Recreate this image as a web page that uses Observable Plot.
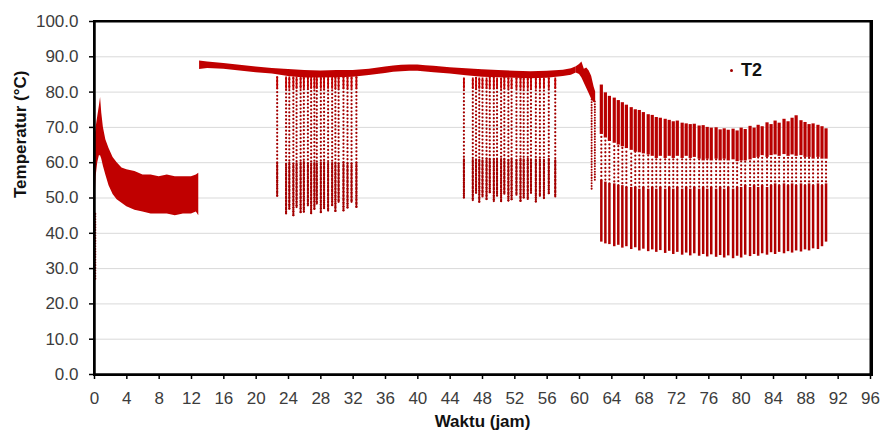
<!DOCTYPE html>
<html>
<head>
<meta charset="utf-8">
<script src="https://cdn.jsdelivr.net/npm/d3@7"></script>
<script src="https://cdn.jsdelivr.net/npm/@observablehq/plot@0.6"></script>
<style>
  html, body { margin: 0; padding: 0; background: #fff; }
  #wrap { position: relative; width: 883px; height: 432px; }
  #legend { position: absolute; left: 730px; top: 60px; font: bold 18px "Liberation Sans", Arial, sans-serif; color: #111; }
  #legend .dot { display: inline-block; width: 3px; height: 3px; border-radius: 50%; background: #a00000; vertical-align: middle; margin-right: 8px; position: relative; top: -1px; }
  #box { position: absolute; left: 93px; top: 20px; width: 776px; height: 352px; border: 2px solid #000; pointer-events: none; }
</style>
</head>
<body>
<div id="wrap"><div id="box"></div><div id="legend"><span class="dot"></span>T2</div></div>
<script>
// ---- axis ticks ----
const xTicks = [0,4,8,12,16,20,24,28,32,36,40,44,48,52,56,60,64,68,72,76,80,84,88,92,96];
const yTicks = [0,10,20,30,40,50,60,70,80,90,100];

// ---- phase A: 0-13 h dense cloud (upper / lower envelope, °C) ----
const aX  = [0.0, 0.2, 0.4, 0.6, 0.75, 0.9, 1.1, 1.4, 1.8, 2.3, 2.8, 3.4, 4.0, 5.0, 6.0, 7.0, 8.0, 9.0, 10.0, 11.0, 12.0, 12.6, 12.9];
const aHi = [66, 70, 73, 76, 78.5, 74, 70, 66.5, 64, 61.5, 60, 58.5, 58, 57.5, 56.5, 56.5, 56, 56.5, 56, 56, 56, 56.5, 57];
const aLo = [46, 56, 60, 62, 62, 61, 59, 56.5, 53.5, 51, 49.5, 48.5, 47.5, 46.5, 46, 45.5, 45.5, 45.5, 45, 45.5, 45.5, 46, 45];
// start-up streak at t = 0
const sX = [0.1], sLo = [27], sHi = [46];

// ---- phase B: 13-59.6 h plateau band ----
const bX  = [13.0,14,16,18,20,22,24,26,28,30,32,34,36,37,38,39,40,41,42,44,46,48,50,52,54,56,58,59,59.6];
const bHi = [88.8,88.5,88.1,87.6,87.1,86.7,86.4,86.1,86.0,86.1,86.1,86.5,87.1,87.4,87.6,87.7,87.7,87.5,87.3,86.9,86.6,86.3,86.1,85.9,85.8,85.9,86.2,86.6,87.2];
const bLo = [86.4,86.7,86.5,86.0,85.5,85.1,84.4,84.0,84.0,84.1,84.2,84.7,85.3,85.6,85.8,85.9,85.9,85.7,85.5,85.1,84.6,84.2,84.1,83.9,83.8,83.9,84.4,84.8,85.4];

// ---- dropout sweeps during the plateau ----
const d1X      = [22.6, 23.7, 24.1, 24.6, 25.0, 25.5, 25.9, 26.4, 26.8, 27.2, 27.5, 28.0, 28.4, 28.9, 29.4, 29.8, 30.2, 30.8, 31.3, 31.8, 32.4];
const d1Bottom = [50.5, 45.2, 46.5, 45.0, 47.0, 45.5, 46.0, 47.5, 45.2, 46.8, 48.0, 45.5, 47.0, 46.0, 47.5, 46.2, 48.5, 46.0, 47.2, 48.5, 47.0];
const d2X      = [45.7, 46.8, 47.2, 47.6, 48.0, 48.5, 48.9, 49.4, 49.8, 50.3, 50.7, 51.2, 51.6, 52.2, 52.7, 53.1, 53.6, 54.0, 54.6, 55.1, 55.6, 56.2, 57.0];
const d2Bottom = [50.0, 49.0, 51.0, 48.8, 50.0, 49.2, 51.5, 48.7, 50.2, 49.0, 50.8, 48.8, 49.5, 50.5, 48.7, 50.0, 49.3, 51.0, 48.9, 50.2, 49.5, 51.2, 50.0];
const dropTop      = [84.3, 84.0];   // region 1, region 2
const dropDense    = [80.8, 80.8];
const dropLowDense = [60.0, 61.0];

// ---- transition 59.6-62 h ----
const tX  = [59.6, 60.0, 60.3, 60.6, 60.9, 61.2, 61.5, 61.8, 62.0];
const tHi = [87.2, 87.8, 88.5, 86.5, 86.8, 86.0, 84.5, 81.5, 80.0];
const tLo = [85.4, 85.0, 84.0, 82.5, 81.0, 79.5, 78.0, 77.0, 77.5];
const tdX = [61.5, 61.9], tdTop = [78, 77.5], tdBottom = [52.5, 55];

// ---- phase C: 62.7-90.5 h cycling ----
const cX = [62.7,63.2,63.7,64.3,64.8,65.3,65.8,66.4,66.9,67.4,67.9,68.5,69.0,69.5,70.0,70.6,71.1,71.6,72.1,72.7,73.2,73.7,74.2,74.8,75.3,75.8,76.3,76.9,77.4,77.9,78.4,79.0,79.5,80.0,80.5,81.1,81.6,82.1,82.6,83.2,83.7,84.2,84.7,85.3,85.8,86.3,86.8,87.4,87.9,88.4,88.9,89.5,90.0,90.5];
const cTop = [82.0,79.8,78.8,78.3,77.6,77.0,76.3,75.6,75.0,74.8,74.2,73.6,73.4,72.8,72.6,72.3,72.0,71.6,71.8,71.2,71.0,70.8,70.9,70.4,70.5,70.0,69.8,69.9,69.3,69.6,69.2,69.5,69.0,69.8,69.4,70.3,69.8,70.6,70.2,71.3,70.8,71.8,71.2,72.3,71.6,72.6,73.3,71.9,71.4,70.8,71.0,70.6,70.2,69.6];
const cMidHi = [68.0,67.0,66.0,65.5,65.0,64.5,64.0,63.5,63.0,62.8,62.5,62.2,61.8,61.2,61.8,61.2,61.8,61.2,61.8,61.2,61.8,61.2,61.5,61.0,60.5,61.0,60.5,61.0,60.5,61.0,60.5,60.8,60.3,60.5,60.5,60.8,61.2,61.5,62.0,61.5,62.0,62.2,61.8,62.3,61.8,62.2,61.8,62.0,61.5,61.5,61.0,61.5,61.0,61.0];
const cMidLo = [55.0,54.5,54.0,54.0,53.5,53.5,53.0,53.0,53.0,52.5,53.0,52.5,53.0,52.5,53.0,52.5,53.0,52.5,53.0,52.5,53.0,52.5,53.0,52.5,53.0,52.5,53.0,52.5,53.0,52.5,53.0,52.5,53.0,53.0,53.5,53.0,53.5,53.0,53.5,53.0,53.5,54.0,53.5,54.0,53.5,54.0,53.5,54.0,53.5,54.0,53.5,54.0,53.5,54.0];
const cBottom = [37.5,37.0,36.8,36.2,36.6,35.8,36.2,35.4,35.9,35.0,35.5,34.8,35.3,34.6,35.1,34.3,34.9,34.0,34.6,33.8,34.4,33.6,34.2,33.5,34.0,33.3,33.9,33.2,33.7,33.0,33.6,32.8,33.5,33.0,33.8,33.4,34.0,33.5,34.2,33.8,34.5,34.0,34.6,34.2,34.8,34.4,35.0,34.7,35.3,35.0,35.6,35.4,36.2,37.5];

// ---- build tables ----
const RED = "#c00000", DOT = "#a30000";
const areaA = aX.map((x, i) => ({x, hi: aHi[i], lo: aLo[i]}));
const streak = sX.map((x, i) => ({x, lo: sLo[i], hi: sHi[i]}));
const areaB = bX.map((x, i) => ({x, hi: bHi[i], lo: bLo[i]}));
const areaT = tX.map((x, i) => ({x, hi: tHi[i], lo: tLo[i]}));
const tCols = tdX.map((x, i) => ({x, top: tdTop[i], bottom: tdBottom[i]}));
const drops = [
  ...d1X.map((x, i) => ({x, k: i % 3, bottom: d1Bottom[i], top: dropTop[0], dense: dropDense[0], low: dropLowDense[0]})),
  ...d2X.map((x, i) => ({x, k: i % 3, bottom: d2Bottom[i], top: dropTop[1], dense: dropDense[1], low: dropLowDense[1]}))
];
const cyc = cX.map((x, i) => ({x, k: i % 2, top: cTop[i], midHi: cMidHi[i], midLo: cMidLo[i], bottom: cBottom[i]}));

const dotRule = (data, k, y1, y2, dash, off) => Plot.ruleX(data, {
  filter: d => d.k === k, x: "x", y1, y2, stroke: DOT, strokeWidth: 2.2,
  strokeDasharray: dash, strokeDashoffset: off, strokeLinecap: "round"
});

const chart = Plot.plot({
  width: 883,
  height: 432,
  marginLeft: 94,
  marginRight: 13,
  marginTop: 21,
  marginBottom: 58,
  style: {fontFamily: "'Liberation Sans', Arial, sans-serif", fontSize: "17px", background: "#fff"},
  x: {domain: [0, 96]},
  y: {domain: [0, 100]},
  marks: [
    Plot.ruleY(yTicks, {stroke: "#d9d9d9", strokeWidth: 1}),
    // phase A
    Plot.areaY(areaA, {x: "x", y1: "lo", y2: "hi", fill: RED}),
    Plot.ruleX(streak, {x: "x", y1: "lo", y2: "hi", stroke: DOT, strokeWidth: 2, strokeDasharray: "0.1,2.6", strokeLinecap: "round"}),
    // dropout sweeps (three dot phases so the dots do not line up)
    dotRule(drops, 0, "bottom", "top", "0.1,3.6", 0),
    dotRule(drops, 1, "bottom", "top", "0.1,3.6", 1.3),
    dotRule(drops, 2, "bottom", "top", "0.1,3.6", 2.5),
    dotRule(drops, 0, "bottom", "low", "0.1,1.8", 0),
    dotRule(drops, 1, "bottom", "low", "0.1,1.8", 0.9),
    dotRule(drops, 2, "bottom", "low", "0.1,1.8", 0.5),
    Plot.ruleX(drops, {x: "x", y1: "dense", y2: "top", stroke: RED, strokeWidth: 1.8}),
    // phase B
    Plot.areaY(areaB, {x: "x", y1: "lo", y2: "hi", fill: RED}),
    // transition
    Plot.areaY(areaT, {x: "x", y1: "lo", y2: "hi", fill: RED}),
    Plot.ruleX(tCols, {x: "x", y1: "bottom", y2: "top", stroke: DOT, strokeWidth: 2, strokeDasharray: "0.1,2.6", strokeLinecap: "round"}),
    // phase C
    dotRule(cyc, 0, "midLo", "midHi", "0.1,3.8", 0),
    dotRule(cyc, 1, "midLo", "midHi", "0.1,3.8", 1.9),
    Plot.ruleX(cyc, {x: "x", y1: "midHi", y2: "top", stroke: "#b80000", strokeWidth: 3.2}),
    Plot.ruleX(cyc, {x: "x", y1: "bottom", y2: "midLo", stroke: "#b00000", strokeWidth: 2.5}),
    // frame & axes
    Plot.ruleY([100], {stroke: "#000", strokeWidth: 2}),
    Plot.ruleX([96], {stroke: "#000", strokeWidth: 2}),
    Plot.ruleX([0], {stroke: "#000", strokeWidth: 2.5}),
    Plot.ruleY([0], {stroke: "#000", strokeWidth: 2.5}),
    Plot.axisY({ticks: yTicks, tickFormat: d3.format(".1f"), tickSize: 5, tickPadding: 11, label: null, stroke: "#000", strokeWidth: 1.5, fill: "#3c3c3c"}),
    Plot.axisX({ticks: xTicks, tickFormat: d => String(d), tickSize: 5, tickPadding: 12, label: null, stroke: "#000", strokeWidth: 1.5, fill: "#3c3c3c"}),
    Plot.text(["Waktu (jam)"], {frameAnchor: "bottom", dy: 52, text: d => d, fontWeight: "bold", fontSize: 17, fill: "#111"}),
    Plot.text(["Temperatur (°C)"], {frameAnchor: "left", dx: -74, rotate: -90, text: d => d, fontWeight: "bold", fontSize: 17, fill: "#111"})
  ]
});
document.getElementById("wrap").prepend(chart);
</script>
</body>
</html>
